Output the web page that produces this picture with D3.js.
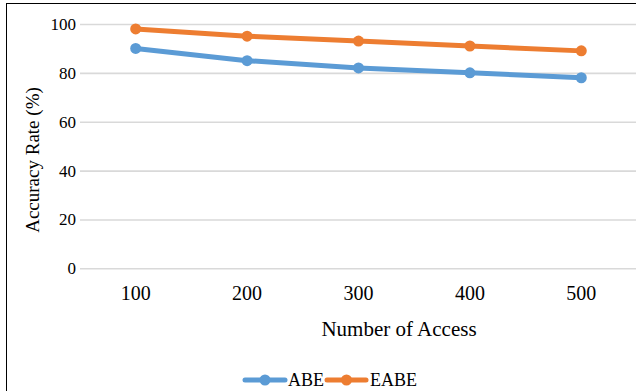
<!DOCTYPE html>
<html>
<head>
<meta charset="utf-8">
<script src="https://cdn.jsdelivr.net/npm/d3@7/dist/d3.min.js"></script>
<style>
  html, body { margin: 0; padding: 0; background: #fff; }
  svg text { font-family: "Times New Roman", "Liberation Serif", Tinos, Times, "DejaVu Serif", serif !important; }
</style>
</head>
<body>
<svg id="chart" width="636" height="391"></svg>
<script>
// Accuracy rate against the number of accesses
const categories = ["100", "200", "300", "400", "500"];
const abeValues = [90, 85, 82, 80, 78];
const eabeValues = [98, 95, 93, 91, 89];
const yTicks = [0, 20, 40, 60, 80, 100];
const seriesNames = ["ABE", "EABE"];
const seriesColors = ["#5B9BD5", "#ED7D31"];

const series = [
  { name: seriesNames[0], values: abeValues, color: seriesColors[0] },
  { name: seriesNames[1], values: eabeValues, color: seriesColors[1] }
];

const svg = d3.select("#chart");

// outer frame
svg.append("rect")
  .attr("x", 6.5).attr("y", 3.5)
  .attr("width", 640).attr("height", 400)
  .attr("fill", "#fff").attr("stroke", "#000").attr("stroke-width", 1);

const plot = { left: 80, right: 637, top: 24, bottom: 268.3 };

const x = d3.scaleBand().domain(categories).range([plot.left, plot.right]);
const y = d3.scaleLinear().domain([0, 100]).range([plot.bottom, plot.top]);

// horizontal gridlines and y tick labels
const yAxis = d3.axisLeft(y).tickValues(yTicks).tickSize(-(plot.right - plot.left)).tickPadding(4);
const gy = svg.append("g").attr("transform", `translate(${plot.left},0)`).call(yAxis);
gy.select(".domain").remove();
gy.selectAll(".tick line").attr("stroke", "#d9d9d9").attr("stroke-width", 1.6);
gy.selectAll(".tick text").attr("font-size", 17).attr("fill", "#000");

// x tick labels
const xAxis = d3.axisBottom(x).tickSize(0).tickPadding(18);
const gx = svg.append("g").attr("transform", `translate(0,${plot.bottom})`).call(xAxis);
gx.select(".domain").remove();
gx.selectAll(".tick text").attr("font-size", 20).attr("fill", "#000");

// axis titles
svg.append("text")
  .attr("x", 399).attr("y", 336)
  .attr("text-anchor", "middle")
  .attr("font-size", 21)
  .text("Number of Access");

svg.append("text")
  .attr("transform", "translate(39,160) rotate(-90)")
  .attr("text-anchor", "middle")
  .attr("font-size", 19)
  .text("Accuracy Rate (%)");

// series lines and markers
const line = d3.line()
  .x((d, i) => x(categories[i]) + x.bandwidth() / 2)
  .y(d => y(d));

series.forEach(s => {
  svg.append("path")
    .datum(s.values)
    .attr("d", line)
    .attr("fill", "none")
    .attr("stroke", s.color)
    .attr("stroke-width", 5)
    .attr("stroke-linejoin", "round")
    .attr("stroke-linecap", "round");
  svg.selectAll(null)
    .data(s.values)
    .enter().append("circle")
    .attr("cx", (d, i) => x(categories[i]) + x.bandwidth() / 2)
    .attr("cy", d => y(d))
    .attr("r", 5.5)
    .attr("fill", s.color);
});

// legend
const legendItems = [
  { x0: 245, x1: 285, tx: 288 },
  { x0: 327, x1: 366, tx: 370 }
];
const legendY = 380;
series.forEach((s, i) => {
  const it = legendItems[i];
  svg.append("line")
    .attr("x1", it.x0).attr("x2", it.x1)
    .attr("y1", legendY).attr("y2", legendY)
    .attr("stroke", s.color).attr("stroke-width", 5)
    .attr("stroke-linecap", "round");
  svg.append("circle")
    .attr("cx", (it.x0 + it.x1) / 2).attr("cy", legendY)
    .attr("r", 5.5).attr("fill", s.color);
  svg.append("text")
    .attr("x", it.tx).attr("y", legendY + 6)
    .attr("font-size", 18)
    .text(s.name);
});
</script>
</body>
</html>
